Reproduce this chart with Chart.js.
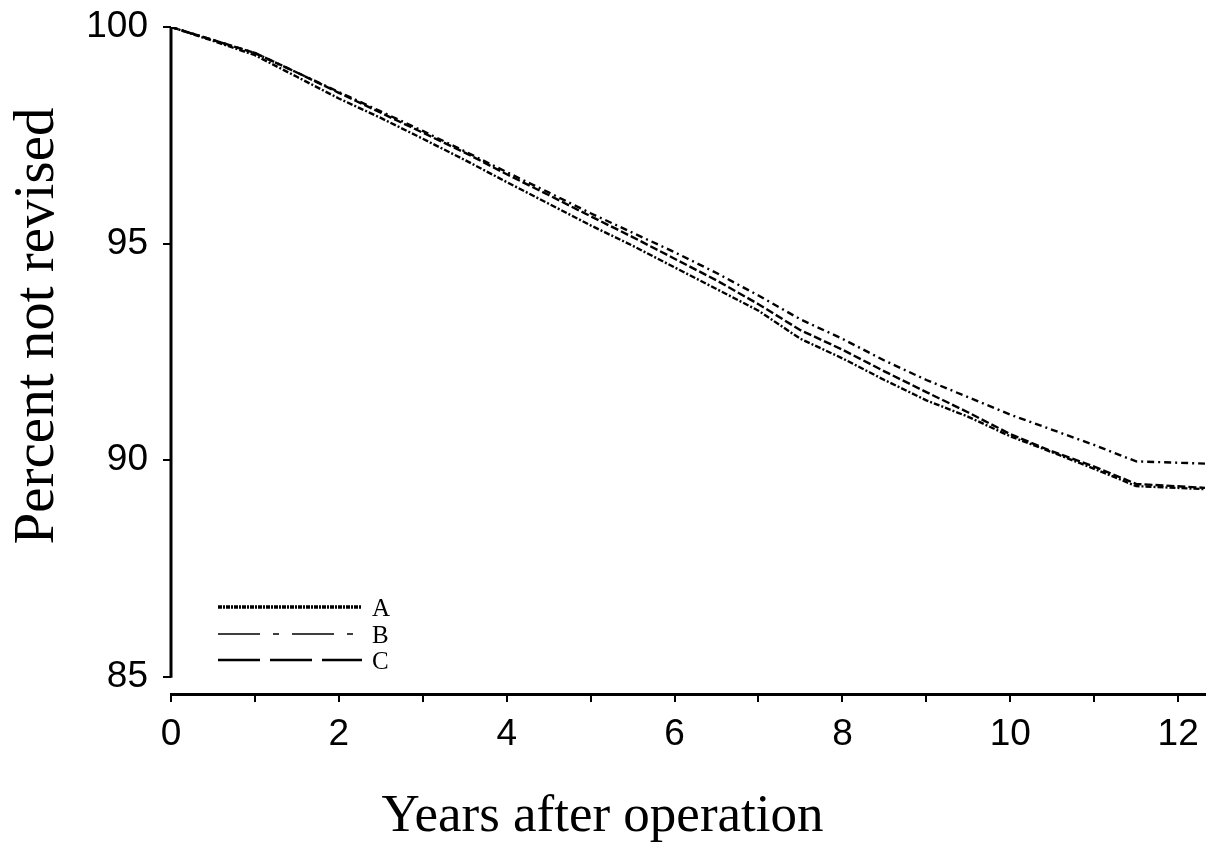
<!DOCTYPE html>
<html>
<head>
<meta charset="utf-8">
<script src="https://cdn.jsdelivr.net/npm/chart.js@4/dist/chart.umd.min.js"></script>
<style>
  html, body { margin: 0; padding: 0; background: #fff; }
  #wrap { width: 1215px; height: 852px; position: relative; }
</style>
</head>
<body>
<div id="wrap"><canvas id="km"></canvas></div>
<script>
// survival curves (years, percent not revised)
var years = [0, 0.5, 1, 1.5, 2, 2.5, 3, 3.5, 4, 4.5, 5, 5.5, 6, 6.5, 7, 7.5, 8, 8.5, 9, 9.5, 10, 10.5, 11, 11.5, 12.32];
var seriesA = [100, 99.68, 99.35, 98.85, 98.35, 97.9, 97.42, 96.93, 96.42, 95.92, 95.42, 94.95, 94.45, 93.95, 93.45, 92.8, 92.35, 91.85, 91.38, 91.0, 90.55, 90.18, 89.8, 89.4, 89.33];
var seriesB = [100, 99.7, 99.4, 98.95, 98.5, 98.05, 97.6, 97.13, 96.65, 96.18, 95.7, 95.25, 94.8, 94.32, 93.8, 93.25, 92.8, 92.3, 91.85, 91.45, 91.05, 90.7, 90.35, 89.97, 89.92];
var seriesC = [100, 99.7, 99.4, 98.95, 98.48, 98.02, 97.56, 97.1, 96.6, 96.12, 95.63, 95.15, 94.65, 94.15, 93.6, 93.0, 92.55, 92.05, 91.57, 91.1, 90.6, 90.2, 89.85, 89.45, 89.36];
var seriesNames = ['A', 'B', 'C'];
var xTicks = [0, 1, 2, 3, 4, 5, 6, 7, 8, 9, 10, 11, 12];
var yTicks = [85, 90, 95, 100];

var SANS = "'Liberation Sans', Arial, sans-serif";
var SERIF = "'Liberation Serif', 'Times New Roman', serif";

function toPoints(ys) {
  return years.map(function (x, i) { return { x: x, y: ys[i] }; });
}

function lineSet(label, ys, dash, keyDash, keyWidth) {
  return {
    label: label,
    data: toPoints(ys),
    borderColor: '#000',
    borderWidth: 2.4,
    borderDash: dash,
    keyDash: keyDash,
    keyWidth: keyWidth,
    pointRadius: 0,
    tension: 0,
    fill: false
  };
}

// y axis line only spans 85..100, y title, and the key inside the plot
var axisAndLegend = {
  id: 'axisAndLegend',
  afterDraw: function (chart) {
    var ctx = chart.ctx;
    var y = chart.scales.y;
    var area = chart.chartArea;
    ctx.save();
    ctx.strokeStyle = '#000';
    ctx.lineWidth = 3;
    ctx.setLineDash([]);
    ctx.beginPath();
    ctx.moveTo(area.left, y.getPixelForValue(100));
    ctx.lineTo(area.left, y.getPixelForValue(85) + 1);
    ctx.stroke();

    // y axis title
    ctx.save();
    ctx.translate(38, 326);
    ctx.rotate(-Math.PI / 2);
    ctx.fillStyle = '#000';
    ctx.font = '57px ' + SERIF;
    ctx.textAlign = 'center';
    ctx.textBaseline = 'middle';
    ctx.fillText('Percent not revised', 0, 0);
    ctx.restore();

    var x0 = area.left + 47, x1 = area.left + 191;
    var rows = [607, 634, 660];
    chart.data.datasets.forEach(function (ds, i) {
      ctx.strokeStyle = '#000';
      ctx.lineWidth = ds.keyWidth;
      ctx.setLineDash(ds.keyDash);
      ctx.beginPath();
      ctx.moveTo(x0, rows[i]);
      ctx.lineTo(x1, rows[i]);
      ctx.stroke();
      ctx.setLineDash([]);
      ctx.fillStyle = '#000';
      ctx.font = '25px ' + SERIF;
      ctx.textBaseline = 'middle';
      ctx.textAlign = 'left';
      ctx.fillText(ds.label, x1 + 10, rows[i] + 2);
    });
    ctx.restore();
  }
};

new Chart(document.getElementById('km'), {
  type: 'line',
  data: {
    datasets: [
      lineSet(seriesNames[0], seriesA, [6, 2, 2, 2], [4, 1, 2, 1], 3.5),
      lineSet(seriesNames[1], seriesB, [7, 4, 2, 4], [42, 13, 6, 13], 1.5),
      lineSet(seriesNames[2], seriesC, [8, 3], [42, 10], 2.5)
    ]
  },
  options: {
    responsive: true,
    maintainAspectRatio: false,
    animation: false,
    layout: { padding: { top: 27, right: 10, bottom: 0, left: 0 } },
    plugins: {
      legend: { display: false },
      tooltip: { enabled: false },
      title: {
        display: true,
        position: 'bottom',
        text: 'Years after operation',
        color: '#000',
        font: { family: SERIF, size: 53, weight: 'normal' },
        padding: { top: 0, bottom: 3 }
      }
    },
    scales: {
      x: {
        type: 'linear',
        min: 0,
        max: 12.32,
        afterBuildTicks: function (s) { s.ticks = xTicks.map(function (v) { return { value: v }; }); },
        afterFit: function (s) { s.height = 91.4; s.paddingRight = 0; s.paddingLeft = 0; },
        border: { display: true, color: '#000', width: 3 },
        grid: { drawOnChartArea: false, color: '#000', lineWidth: 2, tickLength: 8 },
        ticks: {
          color: '#000',
          font: { family: SANS, size: 37 },
          padding: 11,
          maxRotation: 0,
          autoSkip: false,
          callback: function (v) { return v % 2 === 0 ? String(v) : ''; }
        }
      },
      y: {
        min: 84.6,
        max: 100,
        afterBuildTicks: function (s) { s.ticks = yTicks.map(function (v) { return { value: v }; }); },
        afterFit: function (s) { s.width = 171; s.paddingTop = 0; s.paddingBottom = 0; },
        border: { display: false },
        grid: { drawOnChartArea: false, color: '#000', lineWidth: 2, tickLength: 8 },
        ticks: {
          color: '#000',
          font: { family: SANS, size: 37 },
          padding: 15
        }
      }
    }
  },
  plugins: [axisAndLegend]
});
</script>
</body>
</html>
